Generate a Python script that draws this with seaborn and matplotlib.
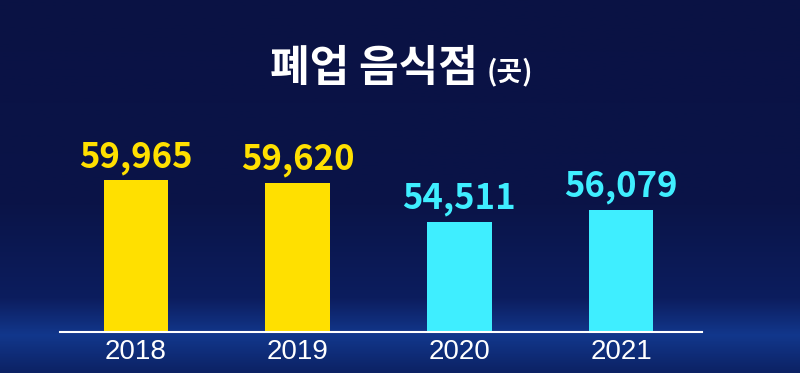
import numpy as np
import pandas as pd
import matplotlib
matplotlib.use("Agg")
import matplotlib.pyplot as plt
import seaborn as sns
from matplotlib.colors import LinearSegmentedColormap

# ---- data ----
years = ["2018", "2019", "2020", "2021"]
closures = [59965, 59620, 54511, 56079]
bar_colors = ["#FFE000", "#FFE000", "#3FEEFF", "#3FEEFF"]
title_main = "폐업 음식점"
title_unit = "(곳)"

df = pd.DataFrame({"year": years, "count": closures})

sns.set_theme(style="white")
plt.rcParams["font.family"] = ["Noto Sans CJK KR", "DejaVu Sans"]

fig = plt.figure(figsize=(8, 3.73), dpi=100)

# background gradient (decoration)
bg = fig.add_axes([0, 0, 1, 1], zorder=-10)
cmap = LinearSegmentedColormap.from_list(
    "bg", [(0.0, "#0a1244"), (0.55, "#0a1448"), (0.8, "#0c1d5e"), (0.9, "#12378c"), (1.0, "#0c2264")])
grad = np.linspace(0, 1, 256).reshape(-1, 1)
bg.imshow(grad, aspect="auto", cmap=cmap, extent=[0, 1, 0, 1], origin="upper")
bg.set_axis_off()

# main axes
bottom = (373 - 332) / 373
top = (373 - 104) / 373
left = 60 / 800
right = 702 / 800
ax = fig.add_axes([left, bottom, right - left, top - bottom])
ax.set_facecolor("none")

sns.barplot(data=df, x="year", y="count", hue="year", palette=bar_colors,
            width=0.4, legend=False, ax=ax, saturation=1, linewidth=0, edgecolor="none")

ax.set_ylim(40000, 70000)
ax.set_xlim(-0.47, 3.5)

for i, (v, c) in enumerate(zip(closures, bar_colors)):
    ax.annotate(f"{v:,}", xy=(i, v), xytext=(0, 4), textcoords="offset points",
                ha="center", va="bottom", color=c, fontsize=25, fontweight="black",
                family=["Noto Sans CJK KR", "DejaVu Sans"])

for s in ["top", "right", "left"]:
    ax.spines[s].set_visible(False)
ax.spines["bottom"].set_color("white")
ax.spines["bottom"].set_linewidth(1.5)
ax.set_yticks([])
ax.set_xlabel("")
ax.set_ylabel("")
ax.tick_params(axis="x", length=0, pad=5, colors="white")
for lab in ax.get_xticklabels():
    lab.set_fontsize(20)
    lab.set_family(["Liberation Sans", "DejaVu Sans"])
    lab.set_color("white")

# title
fig.text(478 / 800, 1 - 68 / 373, title_main, ha="right", va="center", color="white",
         fontsize=31, fontweight="black", family=["Noto Sans CJK KR", "DejaVu Sans"])
fig.text(487 / 800, 1 - 72 / 373, title_unit, ha="left", va="center", color="white",
         fontsize=20, fontweight="bold", family=["Noto Sans CJK KR", "DejaVu Sans"])

fig.savefig("out.png", dpi=100)
